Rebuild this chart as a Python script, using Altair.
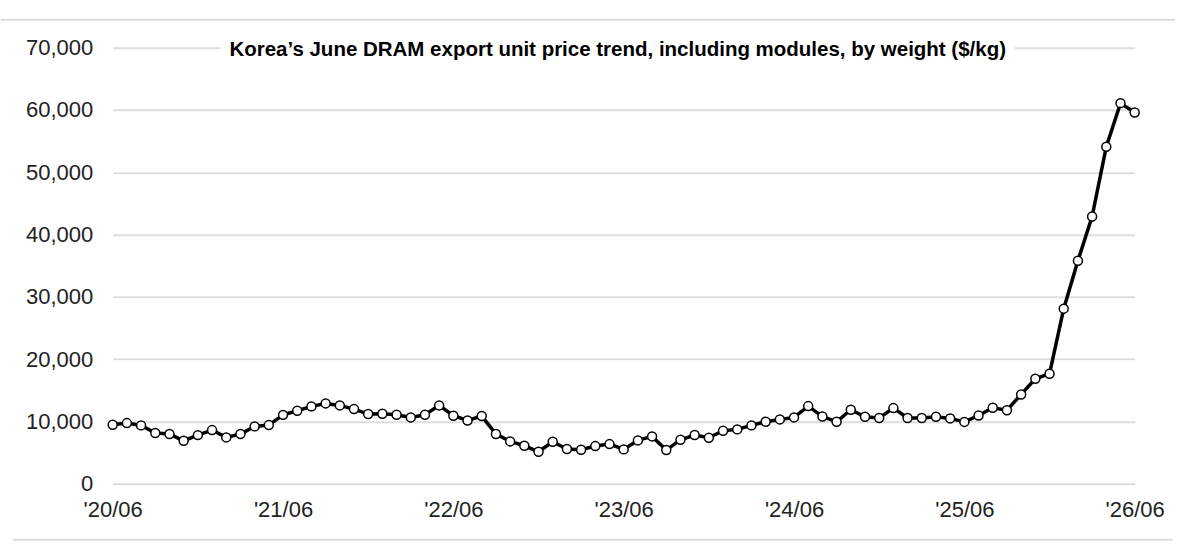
import json
import altair as alt
import pandas as pd

# ---- data ----
months = [p.strftime("%Y-%m") for p in pd.period_range("2020-06", "2026-06", freq="M")]
values = [
    9470, 9730, 9360, 8130, 7970, 6900, 7800, 8610, 7430, 7970, 9200, 9410,
    11050, 11710, 12410, 12890, 12570, 11980, 11180, 11230, 11070, 10640, 11070, 12570,
    10910, 10150, 10860, 7970, 6790, 6090, 5130, 6740, 5560, 5450, 6040, 6360,
    5510, 6950, 7590, 5400, 7060, 7810, 7380, 8500, 8720, 9360, 9950, 10320,
    10640, 12460, 10780, 9950, 11870, 10750, 10540, 12140, 10540, 10540, 10750, 10480,
    9920, 10950, 12200, 11800, 14330, 16840, 17650, 28100, 35800, 42900, 54100, 61100,
    59600,
]
tick_labels = ["'20/06", "'21/06", "'22/06", "'23/06", "'24/06", "'25/06", "'26/06"]
tick_pos = [0, 12, 24, 36, 48, 60, 72]
y_ticks = [0, 10000, 20000, 30000, 40000, 50000, 60000, 70000]
title_text = "Korea\u2019s June DRAM export unit price trend, including modules, by weight ($/kg)"

df = pd.DataFrame({"month": months, "idx": list(range(len(months))), "value": values})

W, H = 1022, 436
FONT = "Liberation Sans"

label_expr = json.dumps(tick_labels) + "[round(datum.value / 12)]"

x_enc = alt.X(
    "idx:Q",
    scale=alt.Scale(domain=[0, 72], nice=False, zero=False),
    axis=alt.Axis(
        values=tick_pos, labelExpr=label_expr, grid=False, ticks=False, domain=False,
        labelFontSize=22, labelPadding=16, labelFlush=False, labelColor="#222222",
        labelFont=FONT, title=None, labelOverlap=False,
    ),
)
y_enc = alt.Y(
    "value:Q",
    scale=alt.Scale(domain=[0, 70000], nice=False),
    axis=alt.Axis(
        values=y_ticks, format=",.0f", grid=True, gridColor="#dedede", gridWidth=2,
        ticks=False, domain=False, labelFontSize=22, labelPadding=20,
        labelColor="#222222", labelFont=FONT, title=None,
    ),
)

base = alt.Chart(df)
line = base.mark_line(color="black", strokeWidth=3.5).encode(x=x_enc, y=y_enc)
pts = base.mark_point(
    shape="circle", filled=True, fill="white", stroke="black",
    strokeWidth=1.5, size=80, opacity=1,
).encode(x=x_enc, y=y_enc)

one = pd.DataFrame({"t": [title_text]})
title_bg = alt.Chart(one).mark_rect(color="white").encode(
    x=alt.value(108), x2=alt.value(902), y=alt.value(-11), y2=alt.value(14)
)
title = alt.Chart(one).mark_text(
    font=FONT, fontSize=20.5, fontWeight="bold", color="black",
    align="center", baseline="middle",
).encode(x=alt.value(505), y=alt.value(2), text="t:N")

page_top = alt.Chart(one).mark_rule(color="#dddddd", strokeWidth=2).encode(
    x=alt.value(-112), x2=alt.value(1062), y=alt.value(-28)
)
page_bot = alt.Chart(one).mark_rule(color="#dddddd", strokeWidth=2).encode(
    x=alt.value(-100), x2=alt.value(1060), y=alt.value(492)
)

chart = (
    alt.layer(page_top, page_bot, line, pts, title_bg, title)
    .properties(
        width=W, height=H,
        autosize=alt.AutoSizeParams(type="none"),
        padding={"left": 112.7, "top": 47.7, "right": 65, "bottom": 63.3},
        background="white",
    )
    .configure_view(stroke=None)
)

chart.save("out.html", embed_options={"renderer": "svg", "actions": False})
